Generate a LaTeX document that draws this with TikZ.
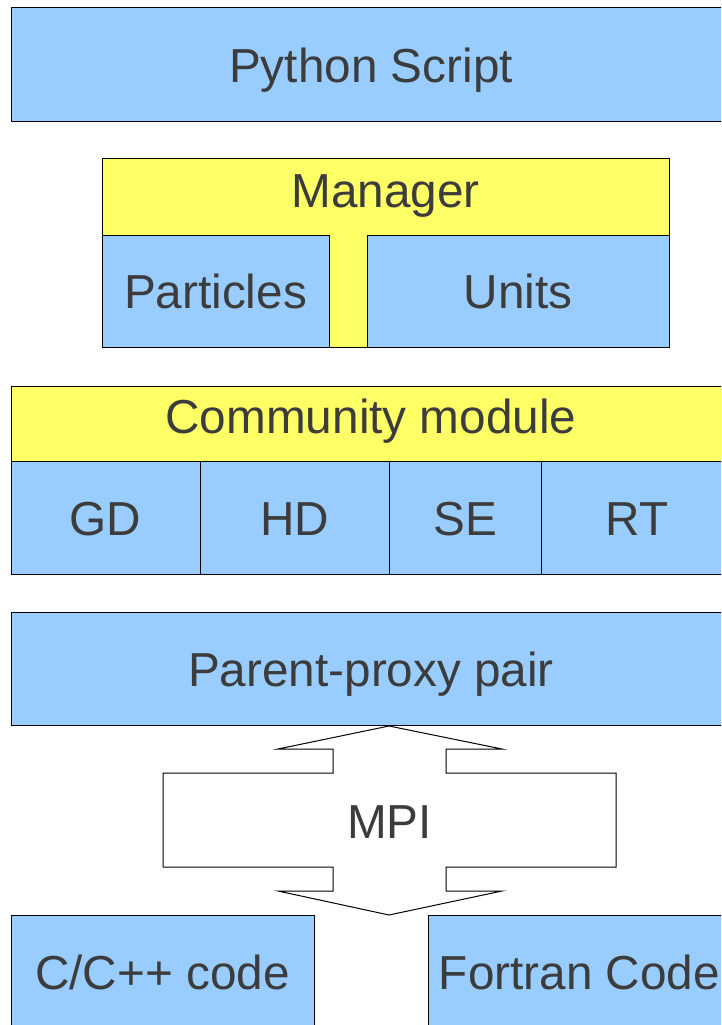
\documentclass[tikz,border=0pt]{standalone}
\usepackage{fontspec}
\setmainfont{Liberation Sans}
\definecolor{boxblue}{HTML}{99CCFF}
\definecolor{boxyellow}{HTML}{FFFF66}
\definecolor{txt}{HTML}{3C3C3C}
\begin{document}
\begin{tikzpicture}[x=1pt,y=-1pt,
  lbl/.style={text=txt,font=\fontsize{47.7}{52}\selectfont,inner sep=0pt,text height=34.5pt,text depth=0pt},
  bluebox/.style={draw=black,line width=1pt,fill=boxblue},
  yellowbox/.style={draw=black,line width=1pt,fill=boxyellow},
  plain/.style={draw=black,line width=1pt,fill=white}]
\useasboundingbox (0,0) rectangle (721,1025);
\clip (0,0) rectangle (721,1025);
% Python Script
\draw[bluebox] (11,8) rectangle (731,121);
\node[lbl] (py) at (371,65) {Python Script};
% Manager
\draw[yellowbox] (102,158) rectangle (669,347);
\node[lbl] (mgr) at (385.5,190) {Manager};
\draw[bluebox] (102,235) rectangle (329,347);
\node[lbl] (part) at (215.5,291) {Particles};
\draw[bluebox] (367,235) rectangle (669,347);
\node[lbl] (units) at (518,291) {Units};
% Community module
\draw[yellowbox] (11,386) rectangle (731,461);
\node[lbl] (cm) at (371,416) {Community module};
\draw[bluebox] (11,461) rectangle (200,574);
\node[lbl] (gd) at (105.5,518) {GD};
\draw[bluebox] (200,461) rectangle (389,574);
\node[lbl] (hd) at (294.5,518) {HD};
\draw[bluebox] (389,461) rectangle (541,574);
\node[lbl] (se) at (465,518) {SE};
\draw[bluebox] (541,461) rectangle (733,574);
\node[lbl] (rt) at (637,518) {RT};
% Parent-proxy pair
\draw[bluebox] (11,612) rectangle (731,725);
\node[lbl] (ppp) at (371,669) {Parent-proxy pair};
% MPI double arrow
\draw[plain] (389,726) -- (502,749) -- (446,749) -- (446,773) -- (616,773) -- (616,867)
  -- (446,867) -- (446,891) -- (502,891) -- (389,915) -- (278,891) -- (333,891)
  -- (333,867) -- (163,867) -- (163,773) -- (333,773) -- (333,749) -- (278,749) -- cycle;
\node[lbl] (mpi) at (389.5,821) {MPI};
% Codes
\draw[bluebox] (11,915) rectangle (314,1035);
\node[lbl] (cc) at (162.5,972) {C/C++ code};
\draw[bluebox] (428,915) rectangle (731,1035);
\node[lbl] (fc) at (579.5,972) {Fortran Code};
\end{tikzpicture}
\end{document}
